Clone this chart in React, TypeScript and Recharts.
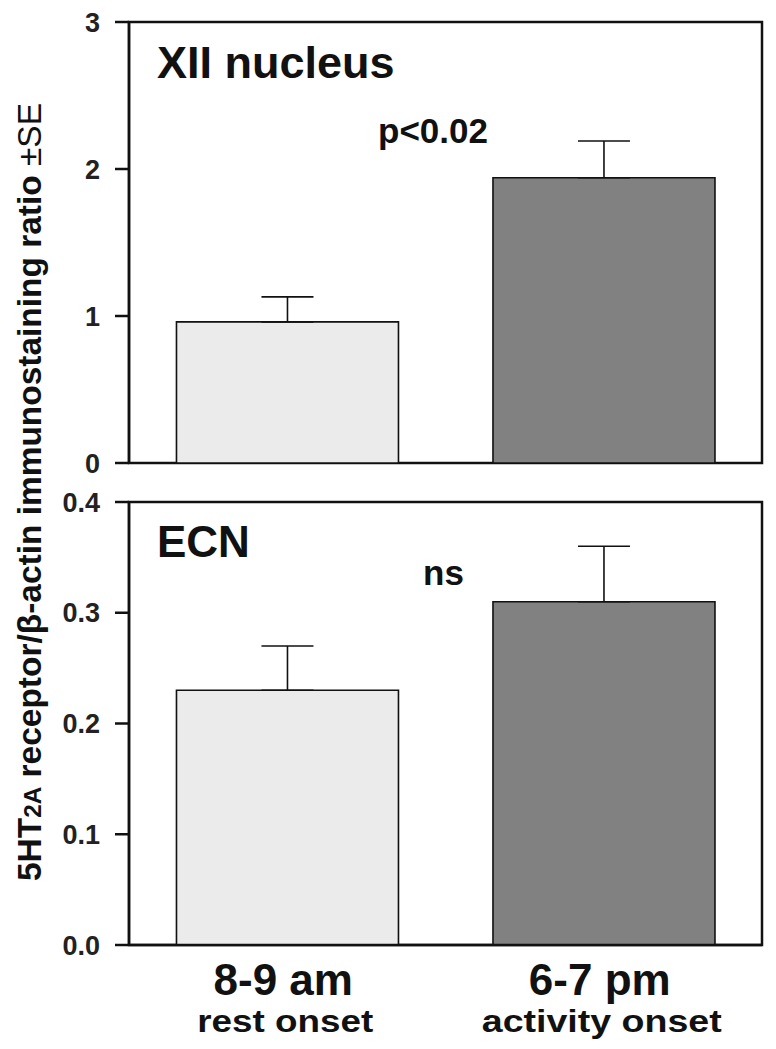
import React from 'react';
import { BarChart, Bar, Cell, XAxis, YAxis, ErrorBar, ReferenceArea } from 'recharts';

const PERIODS = ['8-9 am', '6-7 pm'];
const PHASES = ['rest onset', 'activity onset'];
const XII_MEAN = [0.96, 1.94];
const XII_SE = [0.17, 0.25];
const ECN_MEAN = [0.23, 0.31];
const ECN_SE = [0.04, 0.05];
const XII_TICKS = [0, 1, 2, 3];
const ECN_TICKS = [0, 0.1, 0.2, 0.3, 0.4];
const FILLS = ['#ebebeb', '#818181'];

const FONT = '"Liberation Sans", Arial, Helvetica, sans-serif';
const INK = '#111';

const xiiData = PERIODS.map((p, i) => ({ period: p, mean: XII_MEAN[i], err: [0, XII_SE[i]] }));
const ecnData = PERIODS.map((p, i) => ({ period: p, mean: ECN_MEAN[i], err: [0, ECN_SE[i]] }));

const tickStyle = { fontSize: 27, fontWeight: 'bold', fill: '#222', fontFamily: FONT };

const XTick = (props: any) => {
  const { x, y, payload } = props;
  const idx = PERIODS.indexOf(payload.value);
  return (
    <g>
      <text x={x - 4} y={y + 50} textAnchor="middle" fontSize={44} fontWeight="bold" fill={INK} fontFamily={FONT}>
        {payload.value}
      </text>
      <text x={x - 2} y={y + 87} textAnchor="middle" fontSize={31} fontWeight="bold" fill={INK} fontFamily={FONT}
        textLength={idx === 0 ? 176 : 240} lengthAdjust="spacingAndGlyphs">
        {PHASES[idx]}
      </text>
    </g>
  );
};

function Panel({ data, ticks, fmt, height, bottom, xAxisHeight, showX }: any) {
  const lo = ticks[0];
  const hi = ticks[ticks.length - 1];
  return (
    <BarChart width={776} height={height} data={data} barCategoryGap="15%"
      margin={{ top: 22, right: 14, left: 0, bottom }}>
      <XAxis dataKey="period" height={xAxisHeight} tickLine={false} tickSize={0} tickMargin={0}
        tick={showX ? <XTick /> : false} axisLine={{ stroke: INK, strokeWidth: 2.5 }} interval={0} />
      <YAxis domain={[lo, hi]} ticks={ticks} width={129} tickSize={14} tickMargin={15}
        tickFormatter={fmt} tick={tickStyle} interval={0}
        axisLine={{ stroke: INK, strokeWidth: 2.5 }} tickLine={{ stroke: INK, strokeWidth: 2.5 }} />
      <ReferenceArea y1={lo} y2={hi} fill="none" fillOpacity={0} stroke={INK} strokeWidth={2.5} ifOverflow="visible" />
      <Bar dataKey="mean" stroke={INK} strokeWidth={1.6} isAnimationActive={false}>
        {data.map((_: any, i: number) => <Cell key={i} fill={FILLS[i]} />)}
        <ErrorBar dataKey="err" width={26} stroke={INK} strokeWidth={1.6} isAnimationActive={false} />
      </Bar>
    </BarChart>
  );
}

export default function App() {
  return (
    <div style={{ position: 'absolute', left: 0, top: 0, width: 776, height: 1049, background: '#fff', fontFamily: FONT }}>
      <div style={{ position: 'absolute', left: 0, top: 0 }}>
        <Panel data={xiiData} ticks={XII_TICKS} fmt={(v: number) => String(v)} height={480} bottom={17} xAxisHeight={0} showX={false} />
      </div>
      <div style={{ position: 'absolute', left: 0, top: 480 }}>
        <Panel data={ecnData} ticks={ECN_TICKS} fmt={(v: number) => v.toFixed(1)} height={569} bottom={0} xAxisHeight={104} showX={true} />
      </div>
      <svg width={776} height={1049} style={{ position: 'absolute', left: 0, top: 0, pointerEvents: 'none' }}>
        <g fontFamily={FONT} fontWeight="bold" fill={INK}>
          <text x={157} y={78} fontSize={45}>XII nucleus</text>
          <text x={378} y={143} fontSize={35}>p&lt;0.02</text>
          <text x={157} y={557} fontSize={44}>ECN</text>
          <text x={423} y={585} fontSize={35}>ns</text>
          <text transform="translate(41,492) rotate(-90)" textAnchor="middle" fontSize={33}
            textLength={778} lengthAdjust="spacingAndGlyphs">
            5HT<tspan fontSize={24}>2A</tspan> receptor/β-actin immunostaining ratio <tspan fontWeight="normal">±SE</tspan>
          </text>
        </g>
      </svg>
    </div>
  );
}
